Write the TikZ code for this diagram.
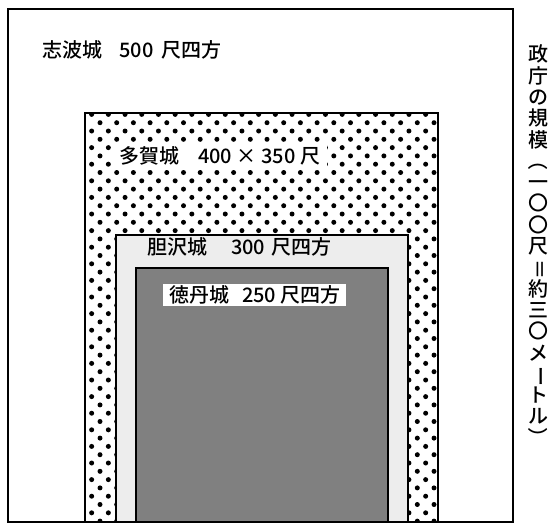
\documentclass[tikz,border=0pt]{standalone}
\usepackage{fontspec}
\setmainfont{Noto Sans CJK JP Medium}
\usepackage{graphicx}
\usepackage{tikz}
\usetikzlibrary{positioning}

\newcommand\lblfont{\fontsize{20}{22}\selectfont}
\newcommand\vrot[1]{\rotatebox[origin=c]{-90}{#1}}

\begin{document}
\begin{tikzpicture}[x=1pt,y=-1pt, every node/.style={inner sep=2pt,font=\lblfont}]
        \useasboundingbox (0,0) rectangle (553,523);
        % 标签样式
        \tikzset{boxlabel/.style={fill=white,inner ysep=3pt},
                 vchar/.style={inner sep=0pt,text height=0.88em,text depth=0.12em}}
        % 志波城 外框
        \draw[line width=2pt] (7.5,9) rectangle (513,522);
        % 多賀城 点纹区域
        \begin{scope}
            \clip (85,113) rectangle (438,522);
            \foreach \j [evaluate=\j as \yy using 106.1+8.3*\j,
                         evaluate=\j as \xo using {83.3+8.35*mod(\j,2)}] in {1,...,50}
                \foreach \i in {0,...,21}
                    \fill (\xo+16.7*\i,\yy) circle (2.5pt);
        \end{scope}
        \draw[line width=1.8pt] (85,113) rectangle (438,522);
        % 胆沢城 浅灰区域
        \draw[line width=1.2pt,fill=black!7] (116,235) rectangle (408,522);
        % 徳丹城 深灰区域
        \draw[line width=1.6pt,fill=black!50] (136,268) rectangle (388,522);
        % 各城名称
        \node[anchor=west] (shiwa) at (40,50) {志波城\hspace{0.85em}500\hspace{0.4em}尺四方};
        \node[anchor=west,boxlabel,inner xsep=7pt] (taga) at (112,156) {多賀城\hspace{0.95em}400 × 350 尺};
        \node[anchor=west] (isawa) at (145,247) {胆沢城\hspace{1.2em}300\hspace{0.3em}尺四方};
        \node[anchor=west,boxlabel,inner xsep=6pt,inner ysep=2pt] (tokutan) at (163,295) {徳丹城\hspace{0.65em}250\hspace{0.2em}尺四方};
        % 右侧竖排说明
        \foreach \c [count=\k] in {政,庁,の,規,模,\vrot{（},一,〇,〇,尺,\vrot{＝},約,三,〇,メ,\vrot{ー},ト,ル,\vrot{）}}
            \node[vchar] (v\k) at (538,36.7+21.3*\k) {\c};
\end{tikzpicture}
\end{document}
